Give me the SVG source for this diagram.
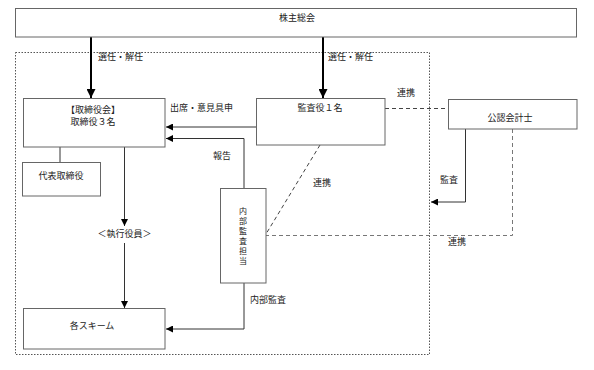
<svg xmlns="http://www.w3.org/2000/svg" width="594" height="370" viewBox="0 0 594 370">
<style>
.box{fill:#fff;stroke:#666;stroke-width:1}
.t{font-family:"Noto Sans CJK JP","Noto Sans CJK SC",sans-serif;font-size:9px;fill:#222;text-anchor:middle}
.tv{font-family:"Noto Sans CJK JP","Noto Sans CJK SC",sans-serif;font-size:8px;fill:#222;text-anchor:middle}
.tl{font-family:"Noto Sans CJK JP","Noto Sans CJK SC",sans-serif;font-size:9px;fill:#222}
.ln{fill:none;stroke:#333;stroke-width:1}
.thick{fill:none;stroke:#000;stroke-width:2}
.dash{fill:none;stroke:#444;stroke-width:1;stroke-dasharray:4,3}
.dashg{fill:none;stroke:#777;stroke-width:1;stroke-dasharray:4,3}
</style>
<defs>
<marker id="a" viewBox="0 0 10 10" refX="10" refY="5" markerWidth="7" markerHeight="7" orient="auto" markerUnits="userSpaceOnUse"><path d="M0,0 L10,5 L0,10 z" fill="#000"/></marker>
<marker id="ab" viewBox="0 0 10 10" refX="10" refY="5" markerWidth="9" markerHeight="9" orient="auto" markerUnits="userSpaceOnUse"><path d="M0,0 L10,5 L0,10 z" fill="#000"/></marker>
</defs>
<rect x="0" y="0" width="594" height="370" fill="#fff"/>
<rect x="15.5" y="52.5" width="414" height="302" fill="none" stroke="#555" stroke-width="1" stroke-dasharray="1.5,1.5"/>

<g id="connectors">
<line class="thick" x1="91" y1="37" x2="91" y2="98" marker-end="url(#ab)"/>
<line class="thick" x1="323" y1="37" x2="323" y2="98" marker-end="url(#ab)"/>
<line class="ln" x1="256" y1="127" x2="166" y2="127" marker-end="url(#a)"/>
<polyline class="ln" points="244,188 244,138.5 166,138.5" marker-end="url(#a)"/>
<line class="ln" x1="60" y1="147" x2="60" y2="162"/>
<line class="ln" x1="124.5" y1="147" x2="124.5" y2="226" marker-end="url(#a)"/>
<line class="ln" x1="124.5" y1="243" x2="124.5" y2="308" marker-end="url(#a)"/>
<polyline class="ln" points="244,283 244,329 166,329" marker-end="url(#a)"/>
<line class="dash" x1="385" y1="108.5" x2="448" y2="108.5"/>
<polyline class="ln" points="465.5,129 465.5,202 431,202" marker-end="url(#a)"/>
<polyline class="dashg" points="512.5,129 512.5,235.5 266,235.5"/>
<line class="dash" x1="320" y1="145" x2="266" y2="234"/>
</g>

<g id="n-shareholders"><rect class="box" x="15.5" y="8.5" width="561" height="28.5"/><text class="t" x="297" y="21">株主総会</text></g>
<g id="n-board"><rect class="box" x="23.5" y="98.5" width="141.5" height="48.5"/><text class="t" x="93" y="113">【取締役会】</text><text class="t" x="93" y="125">取締役３名</text></g>
<g id="n-rep"><rect class="box" x="22.5" y="162.5" width="78" height="33.5"/><text class="t" x="61" y="179">代表取締役</text></g>
<g id="n-auditor"><rect class="box" x="256.5" y="98.5" width="128.5" height="46.5"/><text class="t" x="320" y="111">監査役１名</text></g>
<g id="n-cpa"><rect class="box" x="448.5" y="99.5" width="128.5" height="29.5"/><text class="t" x="510" y="121">公認会計士</text></g>
<g id="n-internal"><rect class="box" x="220.5" y="188.5" width="45.5" height="94.5"/>
<text class="tv" x="243" y="214">内</text><text class="tv" x="243" y="224">部</text><text class="tv" x="243" y="234">監</text><text class="tv" x="243" y="244">査</text><text class="tv" x="243" y="254">担</text><text class="tv" x="243" y="264">当</text></g>
<g id="n-exec"><text class="t" x="124.5" y="236.5">＜執行役員＞</text></g>
<g id="n-schemes"><rect class="box" x="23.5" y="308.5" width="141.5" height="40.5"/><text class="t" x="92" y="329">各スキーム</text></g>

<g id="labels">
<text class="tl" x="98" y="60">選任・解任</text>
<text class="tl" x="328" y="60">選任・解任</text>
<text class="tl" x="170" y="111">出席・意見具申</text>
<text class="tl" x="213" y="159">報告</text>
<text class="tl" x="397" y="96">連携</text>
<text class="tl" x="313" y="186">連携</text>
<text class="tl" x="440" y="183">監査</text>
<text class="tl" x="448" y="245">連携</text>
<text class="tl" x="250" y="303">内部監査</text>
</g>
</svg>
